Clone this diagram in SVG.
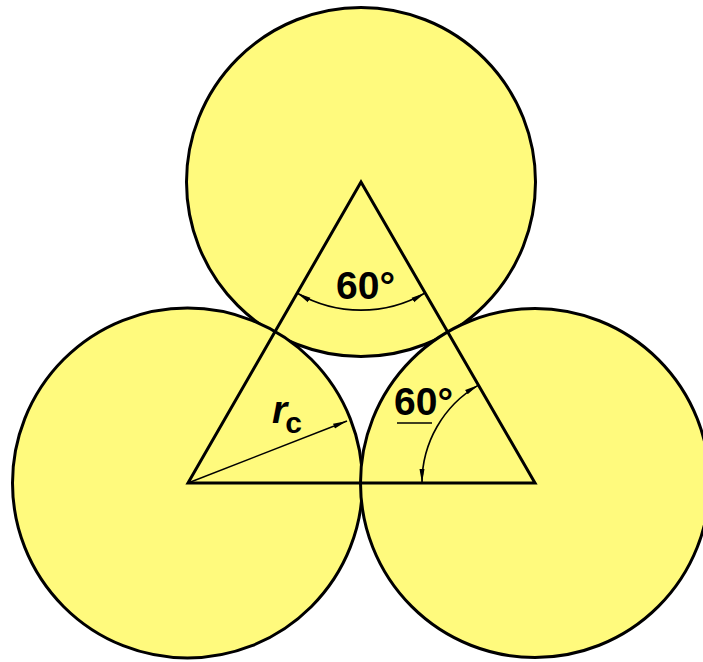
<svg xmlns="http://www.w3.org/2000/svg" width="703" height="662" viewBox="0 0 703 662">
  <style>
    .circ { fill: #FFFA7D; stroke: #000; stroke-width: 3; }
    .tri { fill: none; stroke: #000; stroke-width: 3; stroke-linejoin: miter; }
    .dim { fill: none; stroke: #000; stroke-width: 1.6; }
    .lbl { font-family: "Liberation Sans", Arial, sans-serif; font-weight: bold; font-size: 39px; fill: #000; }
  </style>
  <defs>
    <marker id="arr" markerUnits="userSpaceOnUse" markerWidth="14" markerHeight="8" viewBox="0 0 14 8" refX="14" refY="4" orient="auto-start-reverse">
      <path d="M0,1.5 L14,4 L0,6.5 Z" fill="#000"/>
    </marker>
  </defs>
  <rect width="703" height="662" fill="#fff"/>
  <g id="circle-top"><circle class="circ" cx="361" cy="182" r="174.5"/></g>
  <g id="circle-left"><circle class="circ" cx="187.5" cy="483" r="175"/></g>
  <g id="circle-right"><circle class="circ" cx="535" cy="483" r="174.5"/></g>
  <g id="triangle"><polygon class="tri" points="361,182 188,483 535,483"/></g>
  <g id="connectors">
    <path class="dim" d="M297,293 A128,128 0 0 0 425,293" marker-start="url(#arr)" marker-end="url(#arr)"/>
    <path class="dim" d="M422,483 A113,113 0 0 1 478.5,385.1" marker-start="url(#arr)" marker-end="url(#arr)"/>
    <line class="dim" x1="188" y1="483" x2="347" y2="421" marker-end="url(#arr)"/>
    <line class="dim" x1="397" y1="423" x2="432" y2="423"/>
  </g>
  <g id="label-top"><text class="lbl" x="336" y="299">60°</text></g>
  <g id="label-right"><text class="lbl" x="394" y="415">60°</text></g>
  <g id="label-rc">
    <text class="lbl" x="272" y="423" font-size="46"><tspan font-style="italic">r</tspan><tspan font-size="30" dx="-2" dy="10">c</tspan></text>
  </g>
</svg>
